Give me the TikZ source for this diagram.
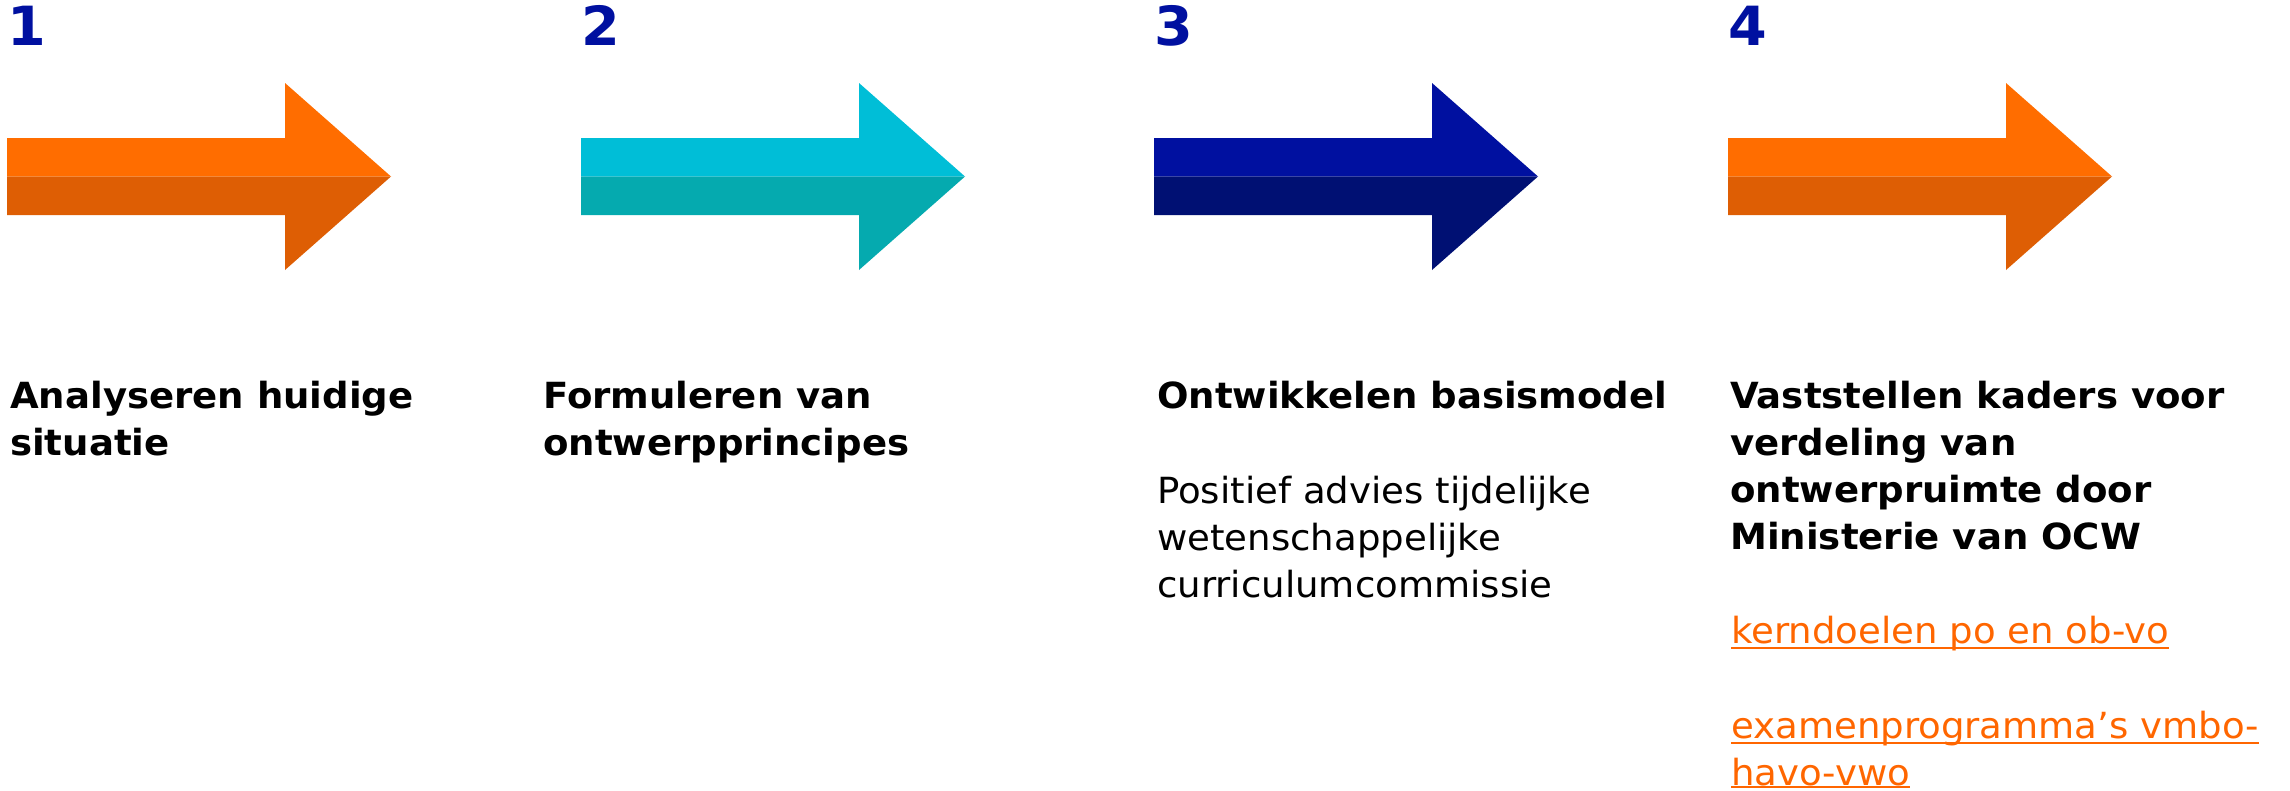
\documentclass[tikz,border=0pt]{standalone}
\usepackage{fontspec}
\setmainfont[FakeStretch=1.03]{DejaVu Sans}
\definecolor{numblue}{RGB}{0,16,160}
\definecolor{orgtop}{RGB}{255,109,0}
\definecolor{orgbot}{RGB}{222,94,4}
\definecolor{cyantop}{RGB}{0,190,215}
\definecolor{cyanbot}{RGB}{5,170,175}
\definecolor{bluetop}{RGB}{0,16,160}
\definecolor{bluebot}{RGB}{0,16,115}
\definecolor{linkorange}{RGB}{255,102,0}
\tikzset{
  num/.style={anchor=base west,inner sep=0pt,text=numblue,font=\fontsize{54}{60}\selectfont\bfseries},
  head/.style={anchor=base west,inner sep=0pt,align=left,font=\fontsize{36}{47}\selectfont\bfseries},
  body/.style={anchor=base west,inner sep=0pt,align=left,font=\fontsize{36}{47}\selectfont},
  link/.style={anchor=base west,inner sep=0pt,text=linkorange,font=\fontsize{36}{47}\selectfont},
  ul/.style={draw=linkorange,line width=2.5pt}
}
\newcommand{\steparrow}[3]{%
  \fill[#2] (#1,138) -- (#1+278,138) -- (#1+278,83) -- (#1+384,176.5) -- (#1,176.5) -- cycle;
  \fill[#3] (#1,176.5) -- (#1+384,176.5) -- (#1+278,270) -- (#1+278,215) -- (#1,215) -- cycle;
}
\begin{document}
\begin{tikzpicture}[x=1pt,y=-1pt]
\useasboundingbox (0,0) rectangle (2290,790);
\steparrow{7}{orgtop}{orgbot}
\steparrow{581}{cyantop}{cyanbot}
\steparrow{1154}{bluetop}{bluebot}
\steparrow{1728}{orgtop}{orgbot}
\node[num] (n1) at (7,45) {1};
\node[num] (n2) at (581,45) {2};
\node[num] (n3) at (1154,45) {3};
\node[num] (n4) at (1728,45) {4};
% base anchor of a multi-line node is the last line's baseline
\node[head] (t1) at (10,455) {Analyseren huidige\\situatie};
\node[head] (t2) at (543,455) {Formuleren van\\ontwerpprincipes};
\node[head] (t3) at (1157,408) {Ontwikkelen basismodel};
\node[body] (b3) at (1157,597) {Positief advies tijdelijke\\wetenschappelijke\\curriculumcommissie};
\node[head] (t4) at (1730,549) {Vaststellen kaders voor\\verdeling van\\ontwerpruimte door\\Ministerie van OCW};
\node[link] (l1) at (1731,643) {kerndoelen po en ob-vo};
\node[link] (l2) at (1731,738) {examenprogramma’s vmbo-};
\node[link] (l3) at (1731,785) {havo-vwo};
\draw[ul] ([yshift=-5pt]l1.base west) -- ([yshift=-5pt]l1.base east);
\draw[ul] ([yshift=-5pt]l2.base west) -- ([yshift=-5pt]l2.base east);
\draw[ul] ([yshift=-2pt]l3.base west) -- ([yshift=-2pt]l3.base east);
\end{tikzpicture}
\end{document}
